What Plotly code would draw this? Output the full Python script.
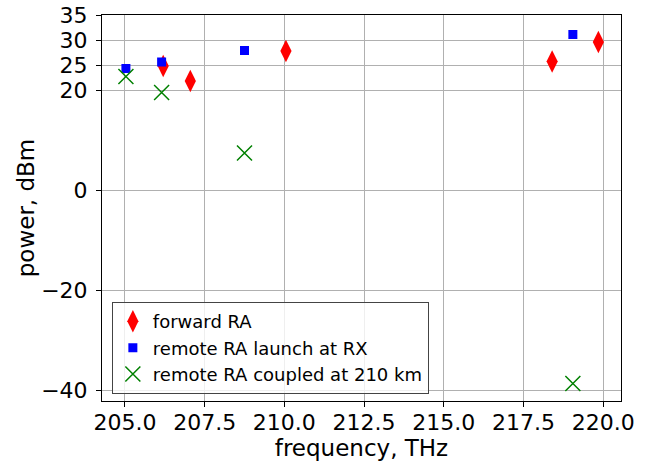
import plotly.graph_objects as go

# forward RA
fwd_freq = [206.2, 207.05, 210.05, 218.4, 219.85]
fwd_power = [24.8, 21.8, 27.8, 25.7, 29.6]

# remote RA launch at RX
launch_freq = [205.03, 206.15, 208.75, 219.05]
launch_power = [24.3, 25.6, 27.9, 31.1]

# remote RA coupled at 210 km
coupled_freq = [205.03, 206.15, 208.75, 219.05]
coupled_power = [22.7, 19.5, 7.4, -38.7]

x_ticks = [205.0, 207.5, 210.0, 212.5, 215.0, 217.5, 220.0]
y_ticks = [-40, -20, 0, 20, 25, 30, 35]

font_family = "DejaVu Sans"

fig = go.Figure()
fig.add_trace(go.Scatter(
    x=fwd_freq, y=fwd_power, mode="markers", name="forward RA",
    marker=dict(symbol="diamond-tall", size=16, color="red", line=dict(width=0)),
))
fig.add_trace(go.Scatter(
    x=launch_freq, y=launch_power, mode="markers", name="remote RA launch at RX",
    marker=dict(symbol="square", size=9, color="blue", line=dict(width=0)),
))
fig.add_trace(go.Scatter(
    x=coupled_freq, y=coupled_power, mode="markers", name="remote RA coupled at 210 km",
    marker=dict(symbol="x-thin-open", size=15, color="green",
                line=dict(width=1.5, color="green")),
))

axis_common = dict(
    showgrid=True, gridcolor="#b0b0b0", gridwidth=1,
    showline=True, linecolor="black", linewidth=1, mirror=True,
    ticks="outside", ticklen=5, tickwidth=1, tickcolor="black",
    zeroline=False, automargin=False, ticklabeloverflow="allow",
    tickfont=dict(family=font_family, size=22, color="black"),
)

fig.update_xaxes(
    range=[204.28, 220.56], tickmode="array", tickvals=x_ticks,
    tickformat=".1f", ticklabelstandoff=-3,
    title=dict(text="frequency, THz", font=dict(family=font_family, size=23, color="black"),
               standoff=2),
    **axis_common,
)
fig.update_yaxes(
    range=[-42.2, 35], tickmode="array", tickvals=y_ticks,
    ticklabelstandoff=4,
    title=dict(text="power, dBm", font=dict(family=font_family, size=23, color="black"),
               standoff=0),
    **axis_common,
)

fig.update_layout(
    width=649, height=461,
    margin=dict(l=102, r=28, t=15, b=60),
    plot_bgcolor="white", paper_bgcolor="white",
    font=dict(family=font_family, color="black"),
    legend=dict(
        x=0.019, y=0.018, xanchor="left", yanchor="bottom",
        bgcolor="rgba(255,255,255,0.8)", bordercolor="#444444", borderwidth=1,
        font=dict(family=font_family, size=18, color="black"),
    ),
)

# drop the page's default body margin so the figure sits at the corner
fig.write_html("out.html", config={"displayModeBar": False},
               post_script="document.body.style.margin='0';")
